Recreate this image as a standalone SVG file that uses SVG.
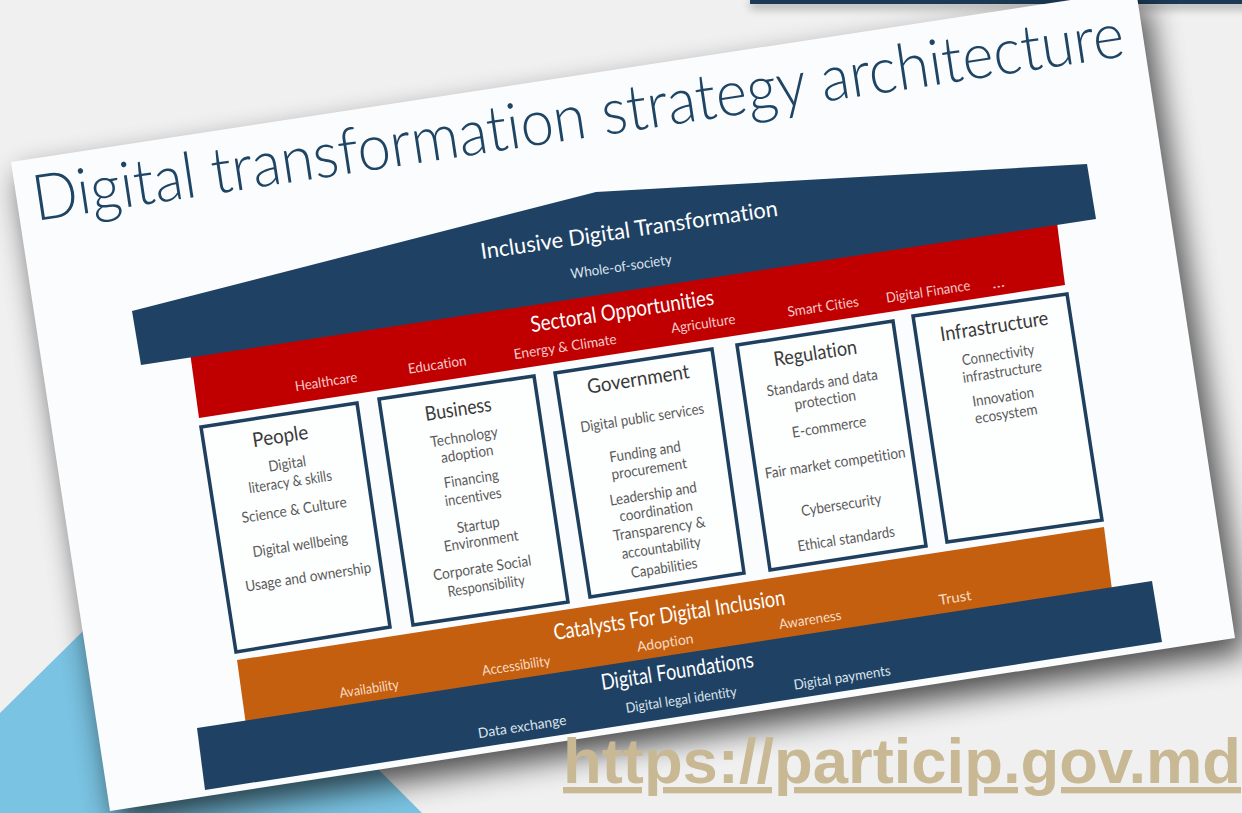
<svg xmlns="http://www.w3.org/2000/svg" width="1242" height="813" viewBox="0 0 1242 813">
<defs>
<style>
.f{font-family:Lato,"Open Sans","Liberation Sans",sans-serif;font-variant-ligatures:none}
.c{text-anchor:middle;dominant-baseline:central}
.box{fill:#fdfefe;stroke:#1f3f5f;stroke-width:3.5;stroke-linejoin:miter}
.bt{font-size:20px;fill:#3a3a3a}
.bi{font-size:15px;fill:#5a5a5a}
.hd{font-size:22px;fill:#ffffff}
.rl{font-size:14px;fill:#f6caca}
.ol{font-size:14px;fill:#f8dcc4}
.nl{font-size:14px;fill:#dde4ec}
.navy{fill:#1f4264}
</style>
<filter id="blur" x="-20%" y="-20%" width="140%" height="140%"><feGaussianBlur stdDeviation="15"/></filter>
<filter id="blur2" x="-10%" y="-200%" width="120%" height="500%"><feGaussianBlur stdDeviation="5"/></filter>
</defs>
<g id="background">
<rect x="0" y="0" width="1242" height="813" fill="#f0f0f0"/>
<polygon points="0,713 162,553 422,813 0,813" fill="#7ac3e2"/>
<rect x="750" y="2" width="500" height="6" fill="#000" opacity="0.35" filter="url(#blur2)"/>
<rect x="750" y="-2" width="500" height="6" fill="#1c3a56"/>
<polygon points="19,176 1146,4 1247,652 118,825" fill="#000" opacity="0.68" filter="url(#blur)"/>
<polygon id="slide" points="11,162 1136,-10 1235,638 110,811" fill="#fbfcfd"/>
</g>
<g id="title">
<text class="f" x="36" y="221" font-size="64" font-weight="300" fill="#1f4565" textLength="1103" lengthAdjust="spacingAndGlyphs" transform="rotate(-8.6 36 221)">Digital transformation strategy architecture</text>
</g>
<g id="sectoral">
<polygon points="189,345 1056,215 1065,285 199,418" fill="#c00000"/>
<g class="f c">
<text class="hd" x="622" y="310" textLength="185" lengthAdjust="spacingAndGlyphs" transform="rotate(-8.6 622 310)">Sectoral Opportunities</text>
<text class="rl" x="326" y="381" textLength="63" lengthAdjust="spacingAndGlyphs" transform="rotate(-8.6 326 381)">Healthcare</text>
<text class="rl" x="437" y="364" textLength="59" lengthAdjust="spacingAndGlyphs" transform="rotate(-8.6 437 364)">Education</text>
<text class="rl" x="565" y="346" textLength="104" lengthAdjust="spacingAndGlyphs" transform="rotate(-8.6 565 346)">Energy &amp; Climate</text>
<text class="rl" x="703" y="323" textLength="65" lengthAdjust="spacingAndGlyphs" transform="rotate(-8.6 703 323)">Agriculture</text>
<text class="rl" x="823" y="306" textLength="72" lengthAdjust="spacingAndGlyphs" transform="rotate(-8.6 823 306)">Smart Cities</text>
<text class="rl" x="928" y="291" textLength="85" lengthAdjust="spacingAndGlyphs" transform="rotate(-8.6 928 291)">Digital Finance</text>
<text class="rl" x="998" y="282" textLength="13" lengthAdjust="spacingAndGlyphs" transform="rotate(-8.6 998 282)">...</text>
</g>
</g>
<g id="roof">
<polygon class="navy" points="132,311 596,192 1087,164 1096,219 141,365"/>
<g class="f c">
<text class="hd" font-size="25" x="629" y="229" textLength="300" lengthAdjust="spacingAndGlyphs" transform="rotate(-8.3 629 229)">Inclusive Digital Transformation</text>
<text class="nl" x="621" y="266" textLength="102" lengthAdjust="spacingAndGlyphs" transform="rotate(-8.3 621 266)">Whole-of-society</text>
</g>
</g>
<g id="catalysts">
<polygon points="237,660 1104,527 1112,590 246,725" fill="#c45f10"/>
<g class="f c">
<text class="hd" x="669" y="614" textLength="234" lengthAdjust="spacingAndGlyphs" transform="rotate(-8.7 669 614)">Catalysts For Digital Inclusion</text>
<text class="ol" x="369" y="688" textLength="60" lengthAdjust="spacingAndGlyphs" transform="rotate(-8.7 369 688)">Availability</text>
<text class="ol" x="516" y="665" textLength="69" lengthAdjust="spacingAndGlyphs" transform="rotate(-8.7 516 665)">Accessibility</text>
<text class="ol" x="665" y="642" textLength="57" lengthAdjust="spacingAndGlyphs" transform="rotate(-8.7 665 642)">Adoption</text>
<text class="ol" x="810" y="619" textLength="63" lengthAdjust="spacingAndGlyphs" transform="rotate(-8.7 810 619)">Awareness</text>
<text class="ol" x="955" y="597" textLength="33" lengthAdjust="spacingAndGlyphs" transform="rotate(-8.7 955 597)">Trust</text>
</g>
</g>
<g id="foundations">
<polygon class="navy" points="197,728 1152,581 1162,642 205,790"/>
<g class="f c">
<text class="hd" x="677" y="670" textLength="154" lengthAdjust="spacingAndGlyphs" transform="rotate(-8.7 677 670)">Digital Foundations</text>
<text class="nl" x="522" y="726" textLength="89" lengthAdjust="spacingAndGlyphs" transform="rotate(-8.7 522 726)">Data exchange</text>
<text class="nl" x="681" y="699" textLength="112" lengthAdjust="spacingAndGlyphs" transform="rotate(-8.7 681 699)">Digital legal identity</text>
<text class="nl" x="842" y="677" textLength="98" lengthAdjust="spacingAndGlyphs" transform="rotate(-8.7 842 677)">Digital payments</text>
</g>
</g>
<g id="people">
<polygon class="box" points="201,427 357,403 390,627 236,652"/>
<g class="f c">
<text class="bt" x="280" y="435" textLength="56" lengthAdjust="spacingAndGlyphs" transform="rotate(-8.8 280 435)">People</text>
<text class="bi" x="287" y="463" textLength="38" lengthAdjust="spacingAndGlyphs" transform="rotate(-8.8 287 463)">Digital</text>
<text class="bi" x="290" y="481" textLength="84" lengthAdjust="spacingAndGlyphs" transform="rotate(-8.8 290 481)">literacy &amp; skills</text>
<text class="bi" x="294" y="509" textLength="106" lengthAdjust="spacingAndGlyphs" transform="rotate(-8.8 294 509)">Science &amp; Culture</text>
<text class="bi" x="300" y="544" textLength="96" lengthAdjust="spacingAndGlyphs" transform="rotate(-8.8 300 544)">Digital wellbeing</text>
<text class="bi" x="308" y="576" textLength="127" lengthAdjust="spacingAndGlyphs" transform="rotate(-8.8 308 576)">Usage and ownership</text>
</g>
</g>
<g id="business">
<polygon class="box" points="379,399 534,376 568,602 413,625"/>
<g class="f c">
<text class="bt" x="458" y="408" textLength="67" lengthAdjust="spacingAndGlyphs" transform="rotate(-8.8 458 408)">Business</text>
<text class="bi" x="464" y="436" textLength="68" lengthAdjust="spacingAndGlyphs" transform="rotate(-8.8 464 436)">Technology</text>
<text class="bi" x="467" y="453" textLength="53" lengthAdjust="spacingAndGlyphs" transform="rotate(-8.8 467 453)">adoption</text>
<text class="bi" x="471" y="478" textLength="55" lengthAdjust="spacingAndGlyphs" transform="rotate(-8.8 471 478)">Financing</text>
<text class="bi" x="473" y="496" textLength="57" lengthAdjust="spacingAndGlyphs" transform="rotate(-8.8 473 496)">incentives</text>
<text class="bi" x="478" y="524" textLength="43" lengthAdjust="spacingAndGlyphs" transform="rotate(-8.8 478 524)">Startup</text>
<text class="bi" x="481" y="540" textLength="75" lengthAdjust="spacingAndGlyphs" transform="rotate(-8.8 481 540)">Environment</text>
<text class="bi" x="482" y="567" textLength="99" lengthAdjust="spacingAndGlyphs" transform="rotate(-8.8 482 567)">Corporate Social</text>
<text class="bi" x="486" y="585" textLength="78" lengthAdjust="spacingAndGlyphs" transform="rotate(-8.8 486 585)">Responsibility</text>
</g>
</g>
<g id="government">
<polygon class="box" points="555,373 712,349 744,573 590,597"/>
<g class="f c">
<text class="bt" x="638" y="378" textLength="103" lengthAdjust="spacingAndGlyphs" transform="rotate(-8.8 638 378)">Government</text>
<text class="bi" x="642" y="417" textLength="125" lengthAdjust="spacingAndGlyphs" transform="rotate(-8.8 642 417)">Digital public services</text>
<text class="bi" x="645" y="451" textLength="72" lengthAdjust="spacingAndGlyphs" transform="rotate(-8.8 645 451)">Funding and</text>
<text class="bi" x="649" y="468" textLength="76" lengthAdjust="spacingAndGlyphs" transform="rotate(-8.8 649 468)">procurement</text>
<text class="bi" x="653" y="493" textLength="88" lengthAdjust="spacingAndGlyphs" transform="rotate(-8.8 653 493)">Leadership and</text>
<text class="bi" x="656" y="510" textLength="74" lengthAdjust="spacingAndGlyphs" transform="rotate(-8.8 656 510)">coordination</text>
<text class="bi" x="659" y="528" textLength="93" lengthAdjust="spacingAndGlyphs" transform="rotate(-8.8 659 528)">Transparency &amp;</text>
<text class="bi" x="661" y="547" textLength="80" lengthAdjust="spacingAndGlyphs" transform="rotate(-8.8 661 547)">accountability</text>
<text class="bi" x="664" y="567" textLength="67" lengthAdjust="spacingAndGlyphs" transform="rotate(-8.8 664 567)">Capabilities</text>
</g>
</g>
<g id="regulation">
<polygon class="box" points="737,345 893,321 926,546 770,570"/>
<g class="f c">
<text class="bt" x="815" y="352" textLength="84" lengthAdjust="spacingAndGlyphs" transform="rotate(-8.8 815 352)">Regulation</text>
<text class="bi" x="822" y="382" textLength="112" lengthAdjust="spacingAndGlyphs" transform="rotate(-8.8 822 382)">Standards and data</text>
<text class="bi" x="825" y="399" textLength="62" lengthAdjust="spacingAndGlyphs" transform="rotate(-8.8 825 399)">protection</text>
<text class="bi" x="829" y="426" textLength="75" lengthAdjust="spacingAndGlyphs" transform="rotate(-8.8 829 426)">E-commerce</text>
<text class="bi" x="835" y="462" textLength="142" lengthAdjust="spacingAndGlyphs" transform="rotate(-8.8 835 462)">Fair market competition</text>
<text class="bi" x="841" y="504" textLength="81" lengthAdjust="spacingAndGlyphs" transform="rotate(-8.8 841 504)">Cybersecurity</text>
<text class="bi" x="846" y="538" textLength="98" lengthAdjust="spacingAndGlyphs" transform="rotate(-8.8 846 538)">Ethical standards</text>
</g>
</g>
<g id="infrastructure">
<polygon class="box" points="913,316 1067,294 1102,520 947,542"/>
<g class="f c">
<text class="bt" x="994" y="325" textLength="109" lengthAdjust="spacingAndGlyphs" transform="rotate(-8.8 994 325)">Infrastructure</text>
<text class="bi" x="998" y="354" textLength="73" lengthAdjust="spacingAndGlyphs" transform="rotate(-8.8 998 354)">Connectivity</text>
<text class="bi" x="1002" y="371" textLength="80" lengthAdjust="spacingAndGlyphs" transform="rotate(-8.8 1002 371)">infrastructure</text>
<text class="bi" x="1003" y="396" textLength="62" lengthAdjust="spacingAndGlyphs" transform="rotate(-8.8 1003 396)">Innovation</text>
<text class="bi" x="1006" y="413" textLength="63" lengthAdjust="spacingAndGlyphs" transform="rotate(-8.8 1006 413)">ecosystem</text>
</g>
</g>
<g id="url">
<text font-family="'Liberation Sans',Arial,sans-serif" font-weight="bold" font-size="63" fill="#c8b994" x="563" y="783" textLength="678" lengthAdjust="spacingAndGlyphs" text-decoration="underline">https://particip.gov.md</text>
</g>
</svg>
